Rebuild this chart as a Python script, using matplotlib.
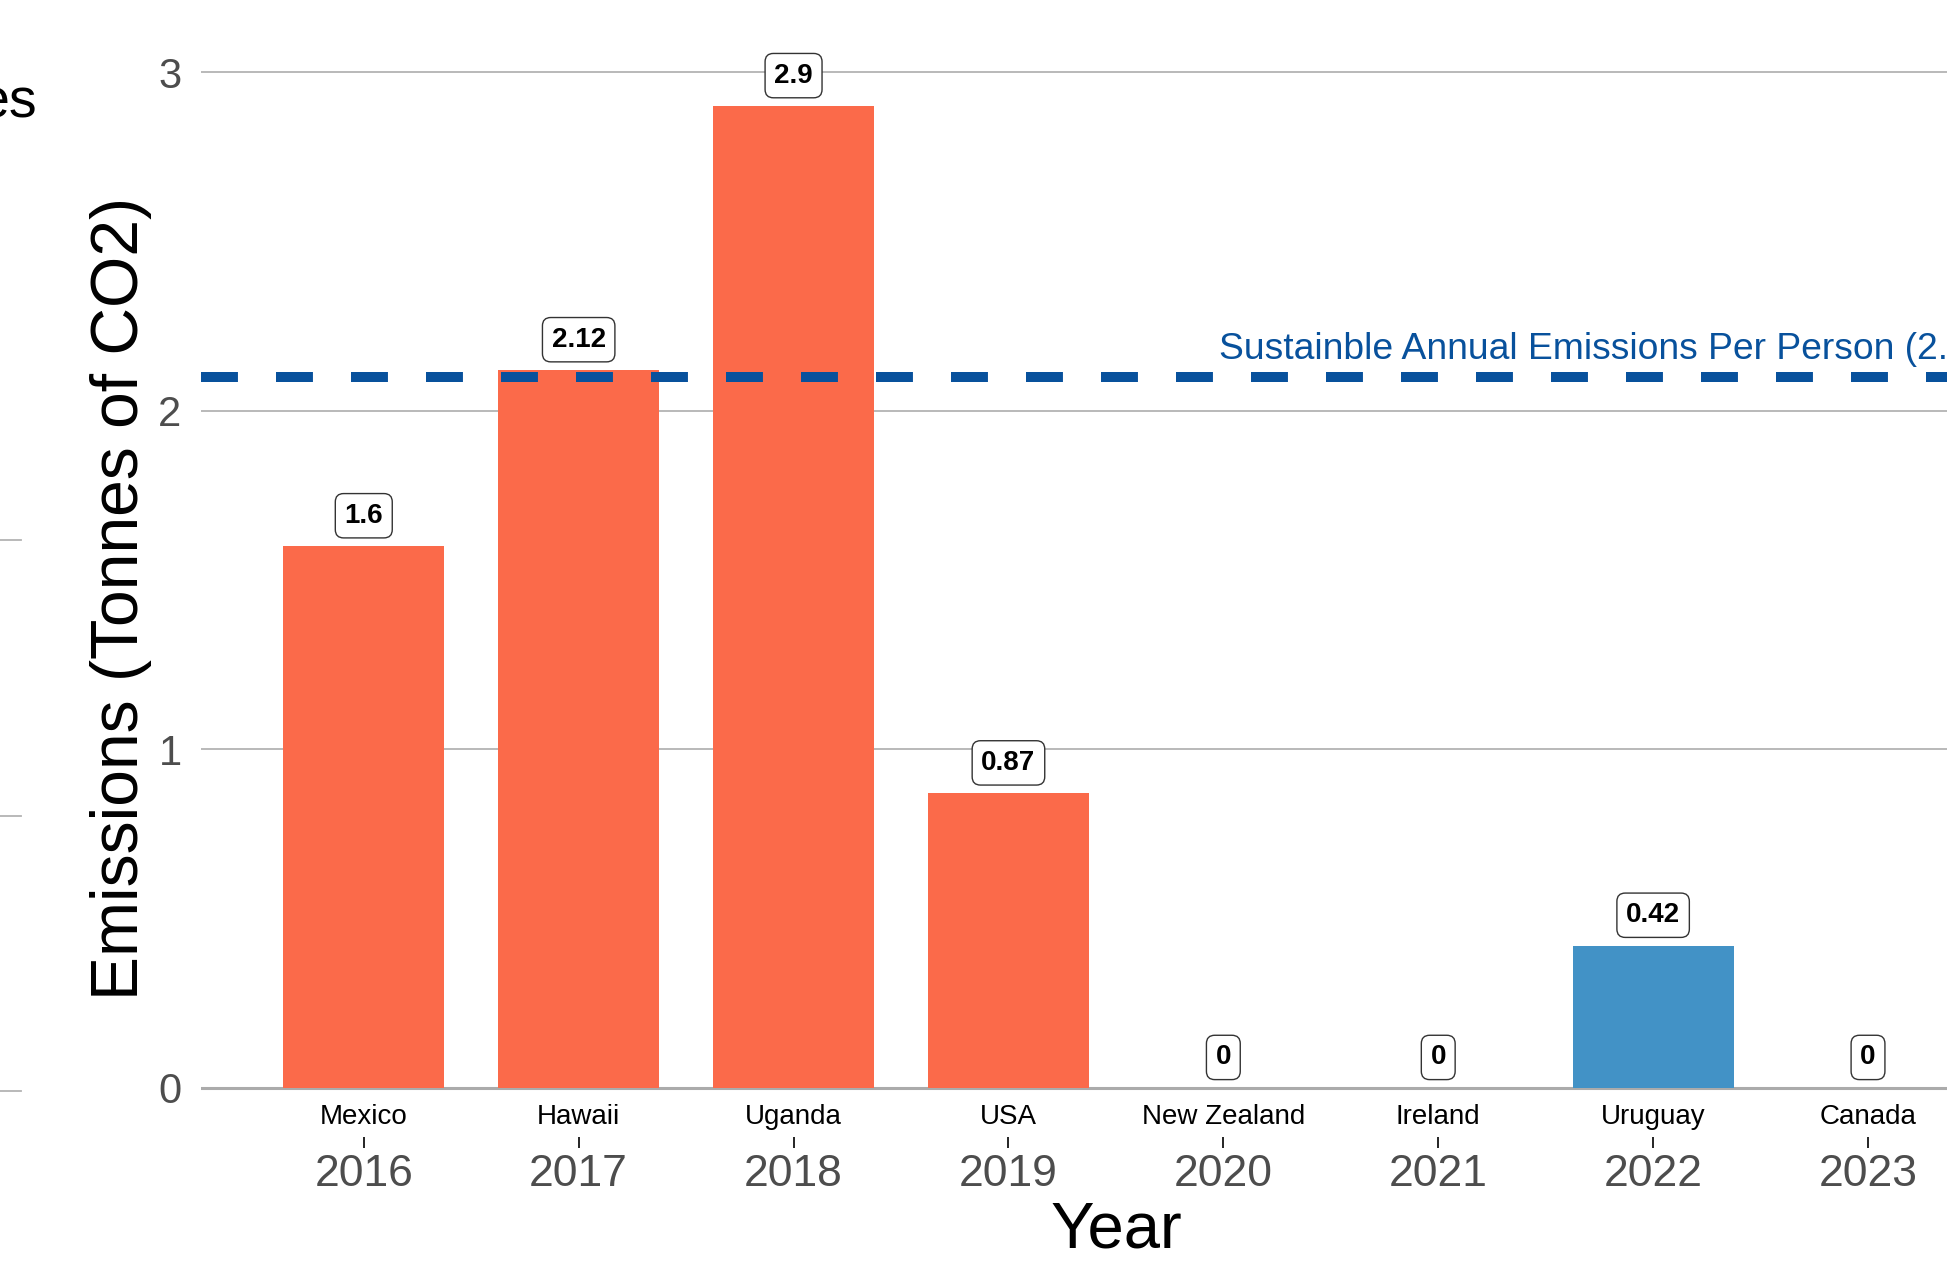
import matplotlib
matplotlib.use("Agg")
import matplotlib.pyplot as plt
from matplotlib.lines import Line2D

plt.rcParams['font.family'] = ['Liberation Sans', 'DejaVu Sans']
plt.rcParams['lines.scale_dashes'] = False

# ---- data ----
years = [2016, 2017, 2018, 2019, 2020, 2021, 2022, 2023]
countries = ["Mexico", "Hawaii", "Uganda", "USA", "New Zealand", "Ireland", "Uruguay", "Canada"]
emissions = [1.6, 2.12, 2.9, 0.87, 0, 0, 0.42, 0]
bar_colors = ["#FB6A4A", "#FB6A4A", "#FB6A4A", "#FB6A4A", "#FB6A4A", "#FB6A4A", "#4292C6", "#FB6A4A"]
sustainable_level = 2.1
sustainable_text = "Sustainble Annual Emissions Per Person (2.1 tonnes)"
y_ticks = [0, 1, 2, 3]

W, H = 1947, 1265
fig = plt.figure(figsize=(W / 100, H / 100), dpi=100)

# panel: x 201..2041 px, y 57..1137 px
ax = fig.add_axes([201 / W, (H - 1137) / H, 1840 / W, 1080 / H])
ax.set_xlim(2015.2425, 2023.805)
ax.set_ylim(-0.145, 3.045)

for s in ax.spines.values():
    s.set_visible(False)

ax.set_yticks(y_ticks)
ax.set_yticklabels([str(t) for t in y_ticks])
ax.yaxis.grid(True, color="#B3B3B3", linewidth=1.3)
ax.set_axisbelow(True)
ax.tick_params(axis='y', length=0, pad=14, labelsize=30, labelcolor="#4D4D4D")

ax.set_xticks(years)
ax.set_xticklabels([str(y) for y in years])
ax.tick_params(axis='x', length=8, width=1.2, color="black", pad=4.5,
               labelsize=32, labelcolor="#4D4D4D", direction='out')

# zero line
ax.axhline(0, color="#ABABAB", linewidth=2.2, zorder=1.5)

# bars
ax.bar(years, emissions, width=0.75, color=bar_colors, zorder=2)

# sustainable line
ax.axhline(sustainable_level, color="#08519C", linewidth=7.2,
           linestyle=(0, (26.6, 27.4)), zorder=3)
ax.text(2019.98, 2.153, sustainable_text, color="#08519C", fontsize=26.8,
        ha='left', va='baseline', zorder=3)

# value labels
for x, v in zip(years, emissions):
    ax.text(x, v + 0.09, f"{v:g}", ha='center', va='center', fontsize=20,
            fontweight='bold', color='black', zorder=5,
            bbox=dict(boxstyle='round,pad=0.33,rounding_size=0.3',
                      fc='white', ec='#333333', lw=1.0))

# country names
for x, c in zip(years, countries):
    ax.text(x, -0.085, c, ha='center', va='center', fontsize=20, color='black',
            zorder=5)

# axis titles
fig.text(121 / W, 1 - 598 / H, "Emissions (Tonnes of CO2)", rotation=90,
         ha='center', va='center', fontsize=47.5, color='black')
fig.text(1116 / W, 1 - 1248 / H, "Year", ha='center', va='baseline',
         fontsize=47, color='black')

# remnants of neighbouring panel at the left edge
fig.text(37 / W, 1 - 103 / H, "es", ha='right', va='center', fontsize=40,
         color='black')
for yp in [540, 816, 1091]:
    fig.add_artist(Line2D([0, 21 / W], [1 - yp / H, 1 - yp / H],
                          color="#B3B3B3", linewidth=1.3))

fig.savefig("out.png", dpi=100)
